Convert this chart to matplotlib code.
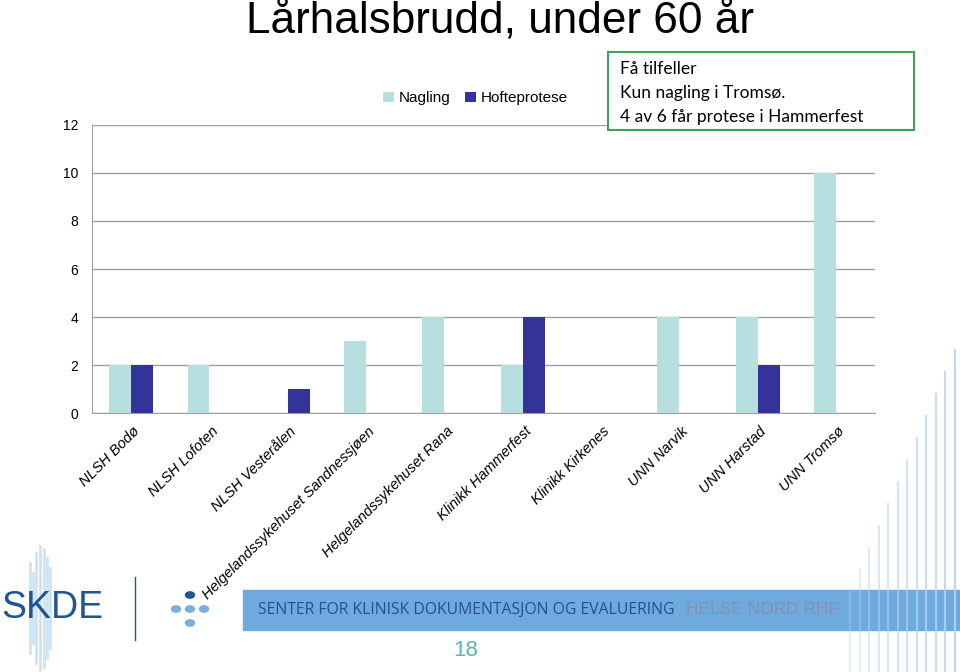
import matplotlib.pyplot as plt
import matplotlib.patches as mpatches
import numpy as np

plt.rcParams['font.family'] = ['Liberation Sans', 'DejaVu Sans']

# data
sykehus = ["NLSH Bodø", "NLSH Lofoten", "NLSH Vesterålen",
           "Helgelandssykehuset Sandnessjøen", "Helgelandssykehuset Rana",
           "Klinikk Hammerfest", "Klinikk Kirkenes", "UNN Narvik",
           "UNN Harstad", "UNN Tromsø"]
nagling = [2, 2, 0, 3, 4, 2, 0, 4, 4, 10]
hofteprotese = [2, 0, 1, 0, 0, 4, 0, 0, 2, 0]
y_ticks = [0, 2, 4, 6, 8, 10, 12]

lys = "#B7DFE0"
mork = "#333399"

fig = plt.figure(figsize=(9.6, 6.72), dpi=100)
ax = fig.add_axes([0.0958, 0.3854, 0.8157, 0.4286])

x = np.arange(len(sykehus))
b = 0.28
ax.bar(x - b / 2, nagling, b, color=lys, label="Nagling", zorder=3)
ax.bar(x + b / 2, hofteprotese, b, color=mork, label="Hofteprotese", zorder=3)

ax.set_xlim(-0.5, len(sykehus) - 0.5)
ax.set_ylim(0, 12)
ax.set_yticks(y_ticks)
ax.yaxis.grid(True, color="#A0A0A0", linewidth=1, zorder=0)
ax.tick_params(axis="y", length=0, pad=10, labelsize=10)
ax.tick_params(axis="x", length=0, pad=8)
for s in ["top", "right"]:
    ax.spines[s].set_visible(False)
for s in ["left", "bottom"]:
    ax.spines[s].set_color("#A0A0A0")
ax.set_xticks(x + 0.02)
ax.set_xticklabels(sykehus, rotation=45, ha="right", rotation_mode="anchor",
                   fontsize=10.5, style="italic")

ax.legend(loc="center left", bbox_to_anchor=(0.364, 1.093), ncol=2, frameon=False,
          fontsize=11, handlelength=0.7, handleheight=0.7, handletextpad=0.3,
          columnspacing=1.0, borderaxespad=0)

fig.text(0.521, 0.968, "Lårhalsbrudd, under 60 år", fontsize=31.8, ha="center", va="center")

fig.patches.append(mpatches.Rectangle((608 / 960, 1 - 130 / 672), 306 / 960, 78 / 672,
                                      transform=fig.transFigure, facecolor="white",
                                      edgecolor="#3AA55A", linewidth=1.5, zorder=4))
fig.text(620 / 960, 1 - 93 / 672, "Få tilfeller\nKun nagling i Tromsø.\n4 av 6 får protese i Hammerfest",
         family=["Lato", "DejaVu Sans"], fontsize=12.5, va="center", ha="left", linespacing=1.6,
         zorder=5)

# bunnfelt
fig.patches.append(mpatches.Rectangle((243 / 960, 1 - 630 / 672), 717 / 960, 40 / 672,
                                      transform=fig.transFigure, color="#6FAADF", zorder=0))
for i, xv in enumerate(np.linspace(850, 955, 12)):
    h = 80 + i * 22
    fig.add_artist(plt.Line2D([xv / 960, xv / 960], [0, h / 672], transform=fig.transFigure,
                              color="#B5D5EE", linewidth=1.5, alpha=0.35 + 0.05 * i, zorder=1))
for xv, h in [(30, 90), (36, 110), (40, 125), (44, 118), (47, 100), (50, 80), (33, 70)]:
    fig.add_artist(plt.Line2D([xv / 960, xv / 960], [1 - (608 + h / 2) / 672, 1 - (608 - h / 2) / 672],
                              transform=fig.transFigure, color="#9CC7E8", linewidth=2, alpha=0.5))
fig.text(52 / 960, 1 - 608 / 672, "SKDE", fontsize=27, color="#1F5591", ha="center", va="center")
fig.add_artist(plt.Line2D([135 / 960, 135 / 960], [1 - 640 / 672, 1 - 577 / 672],
                          transform=fig.transFigure, color="#1F5591", linewidth=1))
for (px, py, c) in [(190, 595, "#1F5591"), (176, 609, "#7AAEDB"), (190, 609, "#7AAEDB"),
                    (204, 609, "#7AAEDB"), (190, 623, "#7AAEDB")]:
    fig.patches.append(mpatches.Circle((px / 960, 1 - py / 672), 4.5 / 960,
                                       transform=fig.transFigure, color=c))
fig.text(258 / 960, 1 - 610 / 672, "SENTER FOR KLINISK DOKUMENTASJON OG EVALUERING",
         fontsize=11.3, color="#24508F", va="center", family=["Open Sans", "DejaVu Sans"])
fig.text(686 / 960, 1 - 610 / 672, "HELSE NORD RHF", fontsize=12.5, color="#8291B0", va="center",
         zorder=5)
fig.text(466 / 960, 1 - 651 / 672, "18", fontsize=16, color="#5BB5B5", ha="center", va="center")

fig.savefig("out.png", dpi=100)
